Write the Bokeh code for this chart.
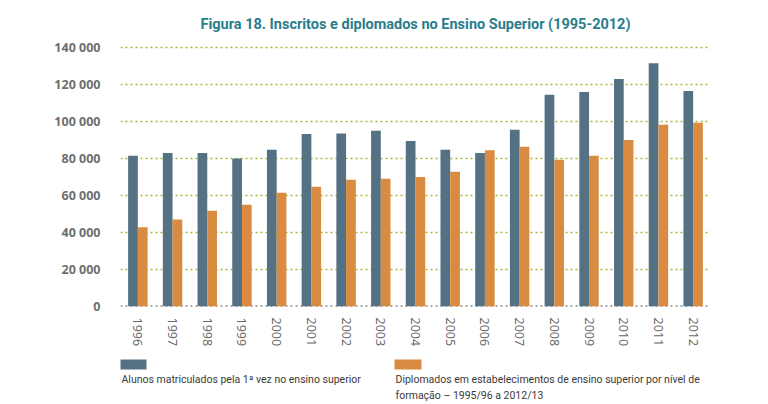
from bokeh.plotting import figure
from bokeh.models import ColumnDataSource, FixedTicker, Span, Range1d, FactorRange
from bokeh.transform import dodge
from bokeh.layouts import column
from bokeh.core.properties import value
from bokeh.embed import file_html
from bokeh.resources import INLINE

years = ["1996", "1997", "1998", "1999", "2000", "2001", "2002", "2003", "2004",
         "2005", "2006", "2007", "2008", "2009", "2010", "2011", "2012"]
inscritos = [81500, 83000, 83000, 80000, 84800, 93300, 93500, 95000, 89500,
             84800, 83000, 95500, 114500, 116000, 123000, 131500, 116500]
diplomados = [42800, 47000, 51800, 55000, 61500, 64800, 68500, 69000, 70000,
              72800, 84500, 86300, 79300, 81500, 90000, 98200, 99300]
y_ticks = [0, 20000, 40000, 60000, 80000, 100000, 120000, 140000]
y_tick_labels = ["0", "20 000", "40 000", "60 000", "80 000", "100 000", "120 000", "140 000"]
title_text = "Figura 18. Inscritos e diplomados no Ensino Superior (1995-2012)"
legend_labels = ["Alunos matriculados pela 1ª vez no ensino superior",
                 "Diplomados em estabelecimentos de ensino superior por nível de\nformação – 1995/96 a 2012/13"]

BLUE = "#547284"
ORANGE = "#d98b42"
GRID = "#a6b637"
TFONT = "Roboto"

W = 760
BL, BR = 120, 50  # frame spans x 120..710

src = ColumnDataSource(dict(year=years, ins=inscritos, dip=diplomados))

p = figure(x_range=FactorRange(*years, range_padding=0), y_range=Range1d(0, 141100),
           width=W, height=354, output_backend="svg", toolbar_location=None,
           min_border_left=BL, min_border_right=BR, min_border_top=44, min_border_bottom=48,
           outline_line_color=None, title=title_text)
p.title.align = "center"
p.title.text_font = TFONT
p.title.text_font_size = "14.5px"
p.title.text_font_style = "bold"
p.title.text_color = "#2a7d8b"
p.title.offset = 0
p.title.standoff = 26

p.vbar(x=dodge("year", -0.14, range=p.x_range), top="ins", width=0.28, source=src,
       fill_color=BLUE, line_color=None)
p.vbar(x=dodge("year", 0.14, range=p.x_range), top="dip", width=0.28, source=src,
       fill_color=ORANGE, line_color=None)

p.xgrid.grid_line_color = None
p.ygrid.ticker = FixedTicker(ticks=y_ticks[1:])
p.ygrid.grid_line_color = GRID
p.ygrid.grid_line_dash = "2 3"
p.ygrid.grid_line_width = 1.5
zero = Span(location=0, dimension="width", line_color="#555555", line_dash="2 3", line_width=2,
            level="underlay")
p.add_layout(zero)

p.yaxis.ticker = FixedTicker(ticks=y_ticks)
p.yaxis.major_label_overrides = {t: l for t, l in zip(y_ticks, y_tick_labels)}
p.yaxis.axis_line_color = None
p.yaxis.major_tick_line_color = None
p.yaxis.minor_tick_line_color = None
p.yaxis.major_label_text_font = "Open Sans"
p.yaxis.major_label_text_font_size = "12.5px"
p.yaxis.major_label_text_font_style = "bold"
p.yaxis.major_label_text_color = "#6e6e6e"
p.yaxis.major_label_standoff = 14

p.xaxis.axis_line_color = None
p.xaxis.major_tick_line_color = None
p.xaxis.major_label_orientation = "vertical"
p.xaxis.major_label_text_font = "Open Sans"
p.xaxis.major_label_text_font_size = "12.5px"
p.xaxis.major_label_text_color = "#666666"
p.xaxis.major_label_standoff = 5

# legend panel; its frame is aligned with the main frame, x in page pixels
leg = figure(width=W, height=49, x_range=Range1d(BL, W - BR), y_range=Range1d(49, 0),
             output_backend="svg", toolbar_location=None, min_border=0,
             min_border_left=BL, min_border_right=BR, outline_line_color=None)
leg.axis.visible = False
leg.grid.visible = False
leg_src = ColumnDataSource(dict(x=[132.5, 407.5], y=[10, 10], c=[BLUE, ORANGE],
                                tx=[121, 395], ty=[18, 18], t=legend_labels))
leg.rect(x="x", y="y", width=27, height=10, fill_color="c", line_color=None, source=leg_src)
leg.text(x="tx", y="ty", text="t", source=leg_src, text_font=value(TFONT),
         text_font_size="10.5px", text_color="#3a3a3a", text_baseline="top",
         text_line_height=1.3)

layout = column(p, leg, spacing=0)
open("out.html", "w").write(file_html(layout, INLINE))
